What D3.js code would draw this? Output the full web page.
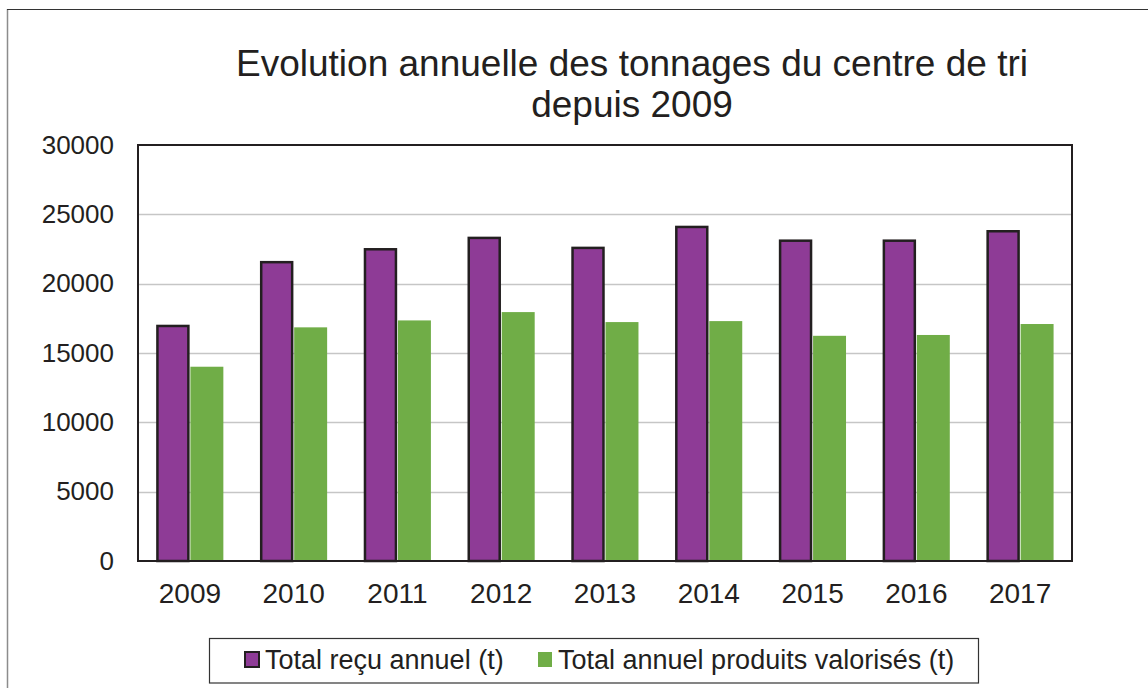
<!DOCTYPE html>
<html>
<head>
	<meta charset="utf-8">
	<title>Evolution annuelle des tonnages</title>
	<script src="https://d3js.org/d3.v7.min.js"></script>
	<style type="text/css">
	body{ margin:0; background:#fff; }
	svg{ display:block; }
	text{ font-family: "Liberation Sans", Arial, sans-serif; fill:#231f20; }
	</style>
</head>
<body>
<div id="chart"></div>
<script type="text/javascript">

var years = ['2009','2010','2011','2012','2013','2014','2015','2016','2017'];
var totalRecu = [16950, 21550, 22480, 23300, 22580, 24090, 23100, 23100, 23780];
var totalValorise = [14010, 16850, 17350, 17950, 17230, 17300, 16240, 16300, 17090];
var yTicks = [0, 5000, 10000, 15000, 20000, 25000, 30000];
var seriesNames = ['Total reçu annuel (t)', 'Total annuel produits valorisés (t)'];
var titleLines = ['Evolution annuelle des tonnages du centre de tri', 'depuis 2009'];

var W = 1148, H = 688;
var plot = {left:138, right:1072, top:145, bottom:561};
var purple = '#8e3b96', green = '#70ad47', ink = '#231f20';

var svg = d3.select('#chart').append('svg')
	.attr('width', W).attr('height', H);

// outer frame
svg.append('line').attr('x1',7.5).attr('x2',7.5).attr('y1',9).attr('y2',H)
	.attr('stroke','#8c8c8c').attr('stroke-width',1.5);
svg.append('line').attr('x1',7).attr('x2',W).attr('y1',9.5).attr('y2',9.5)
	.attr('stroke','#333').attr('stroke-width',1.2);

// title
svg.selectAll('text.title')
	.data(titleLines).enter()
	.append('text').attr('class','title')
	.attr('x', 632)
	.attr('y', function(d,i){ return 76 + i*41; })
	.attr('text-anchor','middle')
	.style('font-size','37px')
	.text(function(d){ return d; });

var x = d3.scaleBand()
	.domain(years)
	.range([plot.left, plot.right])
	.paddingInner(0.355)
	.paddingOuter(0.1775);

var x1 = d3.scaleBand()
	.domain([0,1])
	.range([0, x.bandwidth()])
	.paddingInner(0.03);

var y = d3.scaleLinear()
	.domain([0, 30000])
	.range([plot.bottom, plot.top]);

// gridlines
svg.append('g')
	.selectAll('line')
	.data(yTicks.filter(function(d){ return d > 0 && d < 30000; }))
	.enter().append('line')
	.attr('x1', plot.left).attr('x2', plot.right)
	.attr('y1', function(d){ return Math.round(y(d)) + 0.5; })
	.attr('y2', function(d){ return Math.round(y(d)) + 0.5; })
	.attr('stroke','#c6c6c6').attr('stroke-width',1.5);

// y axis labels
var yAxis = d3.axisLeft(y).tickValues(yTicks).tickSize(0).tickPadding(24)
	.tickFormat(d3.format('d'));
svg.append('g')
	.attr('transform','translate(' + plot.left + ',0)')
	.call(yAxis)
	.call(function(g){
		g.select('.domain').remove();
		g.selectAll('text').style('font-size','26px').attr('fill', ink);
	});

// x axis labels
var xAxis = d3.axisBottom(x).tickSize(0).tickPadding(22);
svg.append('g')
	.attr('transform','translate(0,' + plot.bottom + ')')
	.call(xAxis)
	.call(function(g){
		g.select('.domain').remove();
		g.selectAll('text').style('font-size','28px').attr('fill', ink);
	});

// bars
var groups = svg.append('g').selectAll('g.year')
	.data(years).enter()
	.append('g').attr('class','year')
	.attr('transform', function(d){ return 'translate(' + x(d) + ',0)'; });

groups.append('rect')
	.attr('x', x1(0) + 1)
	.attr('width', x1.bandwidth() - 2)
	.attr('y', function(d,i){ return y(totalRecu[i]); })
	.attr('height', function(d,i){ return plot.bottom - y(totalRecu[i]); })
	.attr('fill', purple)
	.attr('stroke', ink).attr('stroke-width', 2.5);

groups.append('rect')
	.attr('x', x1(1))
	.attr('width', x1.bandwidth())
	.attr('y', function(d,i){ return y(totalValorise[i]); })
	.attr('height', function(d,i){ return plot.bottom - y(totalValorise[i]); })
	.attr('fill', green);

// plot border
svg.append('rect')
	.attr('x', plot.left).attr('y', plot.top)
	.attr('width', plot.right - plot.left)
	.attr('height', plot.bottom - plot.top)
	.attr('fill','none').attr('stroke', ink).attr('stroke-width', 2);

// legend
var legend = svg.append('g');
legend.append('rect')
	.attr('x', 209.5).attr('y', 638.5)
	.attr('width', 769).attr('height', 44.5)
	.attr('fill','#fff').attr('stroke','#333').attr('stroke-width',1.2);

var legendX = [245, 538];
var legendColors = [purple, green];
var item = legend.selectAll('g.item')
	.data(seriesNames).enter()
	.append('g').attr('class','item')
	.attr('transform', function(d,i){ return 'translate(' + legendX[i] + ',652)'; });

item.append('rect')
	.attr('width', 14).attr('height', 15)
	.attr('fill', function(d,i){ return legendColors[i]; })
	.attr('stroke', function(d,i){ return i === 0 ? ink : 'none'; })
	.attr('stroke-width', 2);

item.append('text')
	.attr('x', 20).attr('y', 17)
	.style('font-size','27px')
	.text(function(d){ return d; });

</script>
</body>
</html>
